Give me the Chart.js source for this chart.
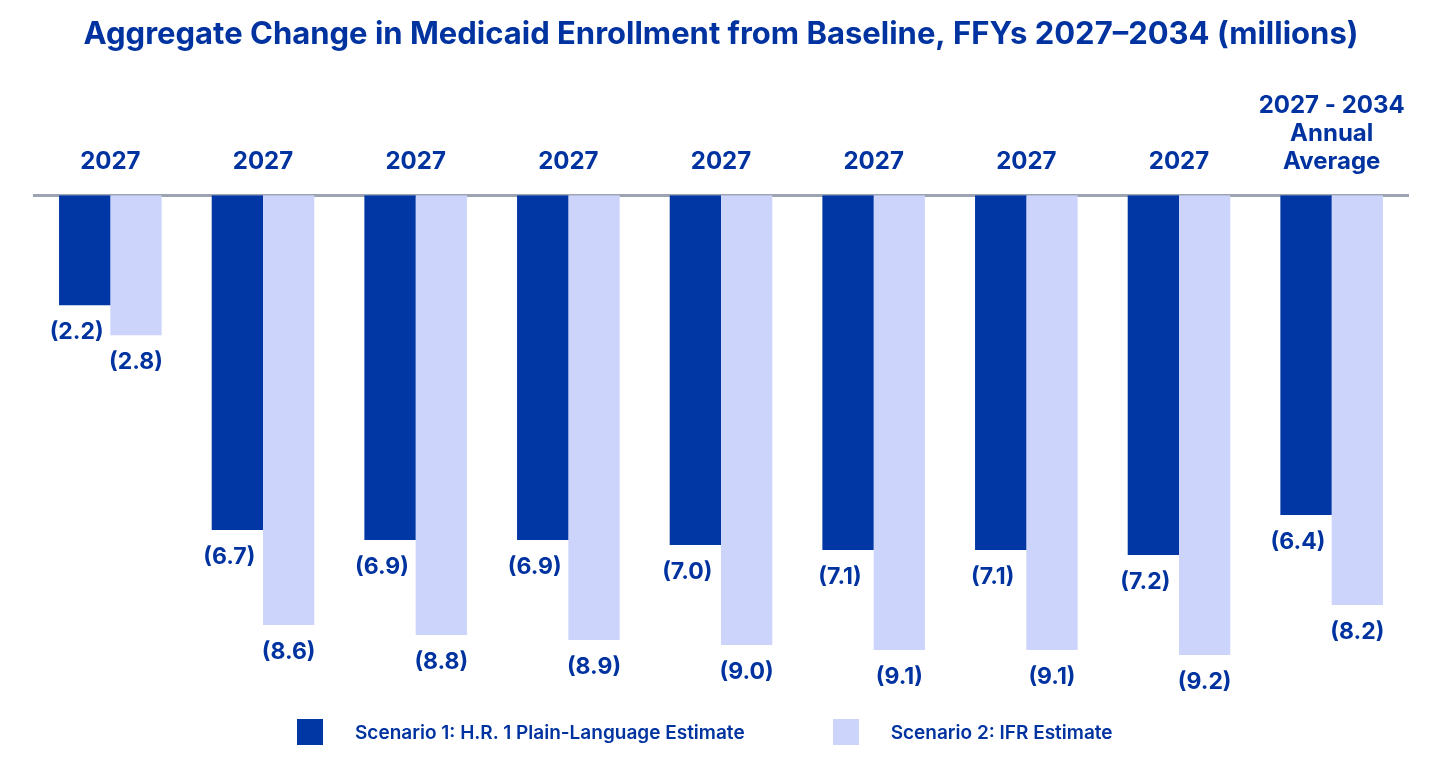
<!DOCTYPE html>
<html lang="en">
<head>
    <meta charset="UTF-8">
    <meta name="viewport" content="width=device-width, initial-scale=1.0">
    <title>Medicaid Enrollment Change</title>

    <style>
        body { margin: 0; background: #ffffff; }
        .wrap { position: relative; width: 1456px; height: 764px; }
        #myChart { position: absolute; left: 0; top: 0; }
        .legend { position: absolute; top: 719px; left: 297px; display: flex; align-items: center;
                  font-family: 'Inter', sans-serif; font-weight: 600; font-size: 19px; color: #0033a0; }
        .legend .item { display: flex; align-items: center; }
        .legend .box { width: 26px; height: 26px; margin-right: 32px; }
        .legend .item + .item { margin-left: 88px; }
    </style>
</head>
<body>

    <div class="wrap">
        <canvas id="myChart" width="1456" height="764"></canvas>
        <div class="legend" id="legend"></div>
    </div>

    <script src="https://cdn.jsdelivr.net/npm/chart.js"></script>

    <script>
        // values in millions
        const categories = ['2027', '2027', '2027', '2027', '2027', '2027', '2027', '2027', ['2027 - 2034', 'Annual', 'Average']]
        const scenario1 = [-2.2, -6.7, -6.9, -6.9, -7.0, -7.1, -7.1, -7.2, -6.4]
        const scenario2 = [-2.8, -8.6, -8.8, -8.9, -9.0, -9.1, -9.1, -9.2, -8.2]
        const seriesNames = ['Scenario 1: H.R. 1 Plain-Language Estimate', 'Scenario 2: IFR Estimate']

        const darkBlue = '#0037a4'
        const lightBlue = '#ccd4fc'
        const textBlue = '#0033a0'

        // value labels below each bar, e.g. (6.7)
        const barLabels = {
            id: 'barLabels',
            afterDatasetsDraw(chart) {
                const c = chart.ctx
                c.save()
                c.font = 'bold 23px Inter'
                c.fillStyle = textBlue
                c.textAlign = 'center'
                c.textBaseline = 'middle'
                chart.data.datasets.forEach((ds, i) => {
                    const meta = chart.getDatasetMeta(i)
                    const shift = i === 0 ? -8 : 0
                    meta.data.forEach((bar, j) => {
                        const v = ds.data[j]
                        c.fillText('(' + Math.abs(v).toFixed(1) + ')', bar.x + shift, bar.y + 27)
                    })
                })
                c.restore()
            }
        }

        var ctx = document.getElementById('myChart')
        var myChart = new Chart(ctx, {
            type: 'bar',
            data: {
                labels: categories,
                datasets: [{
                    label: seriesNames[0],
                    data: scenario1,
                    backgroundColor: darkBlue,
                    categoryPercentage: 0.672,
                    barPercentage: 1.0
                }, {
                    label: seriesNames[1],
                    data: scenario2,
                    backgroundColor: lightBlue,
                    categoryPercentage: 0.672,
                    barPercentage: 1.0
                }]
            },
            options: {
                responsive: false,
                animation: false,
                layout: { padding: { left: 34, right: 48, top: 0, bottom: 69 } },
                scales: {
                    x: {
                        position: 'top',
                        grid: { display: false, drawTicks: false },
                        border: { display: true, color: '#9ca3b3', width: 3 },
                        ticks: {
                            color: textBlue,
                            padding: 19,
                            maxRotation: 0,
                            font: { family: 'Inter', weight: 'bold', size: 24, lineHeight: 28 / 24 }
                        }
                    },
                    y: {
                        display: false,
                        min: -10,
                        max: 0
                    }
                },
                plugins: {
                    legend: { display: false },
                    tooltip: { enabled: false },
                    title: {
                        display: true,
                        text: 'Aggregate Change in Medicaid Enrollment from Baseline, FFYs 2027\u20132034 (millions)',
                        color: textBlue,
                        font: { family: 'Inter', weight: 'bold', size: 31 },
                        padding: { top: 16, bottom: 20 }
                    }
                }
            },
            plugins: [barLabels]
        })

        // legend row under the chart
        const legendBox = document.getElementById('legend')
        let body = ''
        myChart.data.datasets.forEach(ds => {
            body += `<div class="item"><span class="box" style="background:${ds.backgroundColor}"></span>${ds.label}</div>`
        })
        legendBox.innerHTML = body
    </script>

</body>
</html>
